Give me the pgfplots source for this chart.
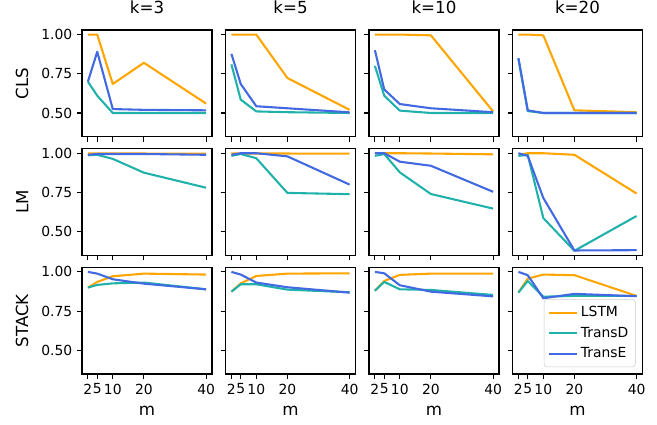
\documentclass[border=0pt]{standalone}
\usepackage{fontspec}
\setmainfont{DejaVu Sans}
\usepackage{pgfplots}
\pgfplotsset{compat=1.18}
\usepgfplotslibrary{groupplots}

\definecolor{lstm}{RGB}{255,165,0}
\definecolor{transd}{RGB}{32,178,170}
\definecolor{transe}{RGB}{65,105,225}

\pgfplotsset{
  panel/.style={
    scale only axis, width=93.6pt, height=76.8pt,
    xmin=0.1, xmax=41.9, ymin=0.349, ymax=1.029,
    xtick={2,5,10,20,40}, ytick={0.5,0.75,1.0},
    yticklabel style={/pgf/number format/fixed,/pgf/number format/fixed zerofill,/pgf/number format/precision=2},
    /pgf/number format/assume math mode=true,
    tick align=outside, xtick pos=left, ytick pos=left,
    major tick length=3.5pt,
    tick style={black, line width=0.8pt},
    axis line style={line width=0.8pt},
    tick label style={font=\fontsize{10}{12}\selectfont},
    label style={font=\fontsize{12}{14}\selectfont},
    xlabel style={yshift=-2pt},
    ylabel style={yshift=2.5pt},
    title style={font=\fontsize{12}{14}\selectfont, yshift=2pt},
    every axis plot/.append style={line width=1.5pt, no markers, line join=round},
  },
  l/.style={lstm}, d/.style={transd}, e/.style={transe},
}

\begin{document}
\begin{tikzpicture}
\begin{groupplot}[
  group style={group size=4 by 3, horizontal sep=9.72pt, vertical sep=8.64pt,
    xticklabels at=edge bottom, yticklabels at=edge left},
  panel]
% ---- CLS ----
\nextgroupplot[title={k=3}, ylabel={CLS}]
\addplot[l] coordinates {(2,1.0)(5,1.0)(10,0.685)(20,0.82)(40,0.56)};
\addplot[d] coordinates {(2,0.70)(5,0.61)(10,0.50)(20,0.50)(40,0.50)};
\addplot[e] coordinates {(2,0.70)(5,0.89)(10,0.525)(20,0.52)(40,0.517)};
\nextgroupplot[title={k=5}]
\addplot[l] coordinates {(2,1.0)(5,1.0)(10,1.0)(20,0.723)(40,0.52)};
\addplot[d] coordinates {(2,0.81)(5,0.585)(10,0.51)(20,0.505)(40,0.50)};
\addplot[e] coordinates {(2,0.877)(5,0.685)(10,0.543)(20,0.53)(40,0.504)};
\nextgroupplot[title={k=10}]
\addplot[l] coordinates {(2,1.0)(5,1.0)(10,1.0)(20,0.995)(40,0.51)};
\addplot[d] coordinates {(2,0.80)(5,0.61)(10,0.515)(20,0.50)(40,0.50)};
\addplot[e] coordinates {(2,0.90)(5,0.65)(10,0.557)(20,0.53)(40,0.505)};
\nextgroupplot[title={k=20}]
\addplot[l] coordinates {(2,1.0)(5,1.0)(10,0.995)(20,0.517)(40,0.505)};
\addplot[d] coordinates {(2,0.845)(5,0.512)(10,0.50)(20,0.50)(40,0.50)};
\addplot[e] coordinates {(2,0.85)(5,0.517)(10,0.50)(20,0.50)(40,0.50)};
% ---- LM ----
\nextgroupplot[ylabel={LM}]
\addplot[l] coordinates {(2,0.998)(5,0.998)(10,0.998)(20,0.998)(40,0.997)};
\addplot[d] coordinates {(2,0.987)(5,0.99)(10,0.964)(20,0.876)(40,0.78)};
\addplot[e] coordinates {(2,0.99)(5,0.995)(10,0.995)(20,0.995)(40,0.99)};
\nextgroupplot
\addplot[l] coordinates {(2,0.998)(5,0.998)(10,0.998)(20,0.998)(40,0.997)};
\addplot[d] coordinates {(2,0.983)(5,0.995)(10,0.968)(20,0.747)(40,0.739)};
\addplot[e] coordinates {(2,0.99)(5,1.0)(10,1.0)(20,0.98)(40,0.80)};
\nextgroupplot
\addplot[l] coordinates {(2,1.0)(5,1.0)(10,1.0)(20,0.998)(40,0.993)};
\addplot[d] coordinates {(2,0.983)(5,0.995)(10,0.878)(20,0.74)(40,0.647)};
\addplot[e] coordinates {(2,1.0)(5,1.0)(10,0.946)(20,0.92)(40,0.754)};
\nextgroupplot
\addplot[l] coordinates {(2,0.99)(5,1.0)(10,1.0)(20,0.99)(40,0.743)};
\addplot[d] coordinates {(2,0.983)(5,0.99)(10,0.587)(20,0.378)(40,0.60)};
\addplot[e] coordinates {(2,1.0)(5,0.983)(10,0.715)(20,0.38)(40,0.382)};
% ---- STACK ----
\nextgroupplot[ylabel={STACK}, xlabel={m}]
\addplot[l] coordinates {(2,0.90)(5,0.936)(10,0.972)(20,0.989)(40,0.983)};
\addplot[d] coordinates {(2,0.90)(5,0.917)(10,0.927)(20,0.932)(40,0.889)};
\addplot[e] coordinates {(2,1.0)(5,0.989)(10,0.953)(20,0.925)(40,0.889)};
\nextgroupplot[xlabel={m}]
\addplot[l] coordinates {(2,0.874)(5,0.927)(10,0.974)(20,0.989)(40,0.991)};
\addplot[d] coordinates {(2,0.874)(5,0.921)(10,0.921)(20,0.887)(40,0.87)};
\addplot[e] coordinates {(2,1.0)(5,0.983)(10,0.932)(20,0.902)(40,0.868)};
\nextgroupplot[xlabel={m}]
\addplot[l] coordinates {(2,0.88)(5,0.942)(10,0.981)(20,0.989)(40,0.989)};
\addplot[d] coordinates {(2,0.88)(5,0.936)(10,0.889)(20,0.885)(40,0.853)};
\addplot[e] coordinates {(2,1.0)(5,0.991)(10,0.915)(20,0.874)(40,0.844)};
\nextgroupplot[xlabel={m},
  legend style={at={(1,0)}, anchor=south east, xshift=-5pt, yshift=5pt,
    draw=black!20, rounded corners=2pt, fill=white, fill opacity=0.8, text opacity=1,
    font=\fontsize{10}{12}\selectfont, inner xsep=3pt, inner ysep=3pt,
    row sep=2pt, cells={anchor=west}},
  legend image code/.code={\draw[#1] (0pt,0pt) -- (20pt,0pt);}]
\addplot[l] coordinates {(2,0.868)(5,0.957)(10,0.983)(20,0.979)(40,0.847)};
\addplot[d] coordinates {(2,0.868)(5,0.942)(10,0.842)(20,0.847)(40,0.847)};
\addplot[e] coordinates {(2,1.0)(5,0.979)(10,0.832)(20,0.86)(40,0.845)};
\legend{LSTM,TransD,TransE}
\end{groupplot}
\pgfresetboundingbox
\path ([shift={(-59.04pt,21.6pt)}]group c1r1.north west) rectangle ([shift={(414pt,-283.68pt)}]group c1r1.north west);
\end{tikzpicture}
\end{document}
